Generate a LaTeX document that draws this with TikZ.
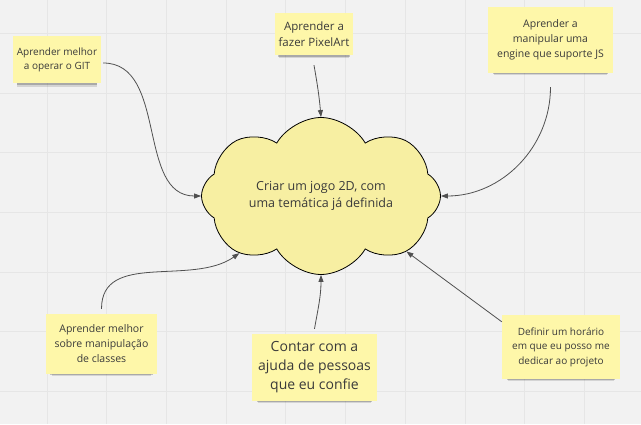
\documentclass[tikz,border=0pt]{standalone}
\usepackage{fontspec}
\setmainfont{Open Sans}
\usetikzlibrary{shapes.symbols,arrows.meta,shadows}
\definecolor{board}{HTML}{F2F2F2}
\definecolor{gridline}{HTML}{E6E6E6}
\definecolor{sticky}{HTML}{FEF7A9}
\definecolor{cloudfill}{HTML}{F7EFA2}
\definecolor{ink}{HTML}{3A3A3A}
\definecolor{wire}{HTML}{505050}

\begin{document}
\begin{tikzpicture}[x=1pt,y=1pt,
    note/.style={fill=sticky,text=ink,align=center,inner sep=0pt,
        drop shadow={shadow xshift=0pt,shadow yshift=-6pt,shadow scale=0.9,opacity=0.12,fill=black},
        drop shadow={shadow xshift=0pt,shadow yshift=-4pt,shadow scale=0.92,opacity=0.2,fill=black}},
    link/.style={draw=wire,line width=0.8pt,-{Triangle[length=7pt,width=5pt]}}]

    \useasboundingbox[fill=board] (0,0) rectangle (641,424);
    \foreach \k in {0,...,10} {
    \draw[gridline,line width=0.8pt] (47+59.7*\k,0)--(47+59.7*\k,424);}
    \foreach \k in {0,...,6} {
    \draw[gridline,line width=0.8pt] (0,390.7-59.7*\k)--(641,390.7-59.7*\k);}

    \node[cloud,cloud puffs=8,cloud puff arc=120,cloud ignores aspect,draw=black,line width=0.8pt,
        fill=cloudfill,text=ink,align=center,minimum width=239pt,minimum height=157pt,
        font=\fontsize{12.5}{16.5}\selectfont] (jogo) at (321,228)
        {Criar um jogo 2D, com\\uma temática já definida};

    \node[note,minimum width=88pt,minimum height=47pt,font=\fontsize{10}{14}\selectfont]
        (git) at (57,364) {Aprender melhor\\a operar o GIT};
    \node[note,minimum width=78pt,minimum height=42pt,font=\fontsize{11.5}{15.5}\selectfont]
        (pixel) at (314,390) {Aprender a\\fazer PixelArt};
    \node[note,minimum width=125pt,minimum height=66pt,font=\fontsize{10.5}{15}\selectfont]
        (engine) at (550.5,384) {Aprender a\\manipular uma\\engine que suporte JS};
    \node[note,minimum width=111pt,minimum height=60pt,font=\fontsize{10.5}{15}\selectfont]
        (classes) at (101.5,80) {Aprender melhor\\sobre manipulação\\de classes};
    \node[note,minimum width=125pt,minimum height=67pt,font=\fontsize{14}{19}\selectfont]
        (pessoas) at (314.5,56.5) {Contar com a\\ajuda de pessoas\\que eu confie};
    \node[note,minimum width=118pt,minimum height=64pt,font=\fontsize{10}{14.5}\selectfont]
        (horario) at (561,77) {Definir um horário\\em que eu posso me\\dedicar ao projeto};

    \draw[link] ([xshift=2pt,yshift=-3pt]git.east) to[out=0,in=180] (jogo.west);
    \draw[link] ([yshift=-10pt]pixel.south) to[out=-80,in=95] (jogo.north);
    \draw[link] ([yshift=-14pt]engine.south) to[out=-90,in=0] (jogo.east);
    \draw[link] ([yshift=5pt]classes.north) to[out=90,in=-145] (jogo.215);
    \draw[link] ([yshift=5pt]pessoas.north) to[out=80,in=-90] (jogo.south);
    \draw[link] ([yshift=-7pt]horario.north west) -- (jogo.327);

\end{tikzpicture}
\end{document}
